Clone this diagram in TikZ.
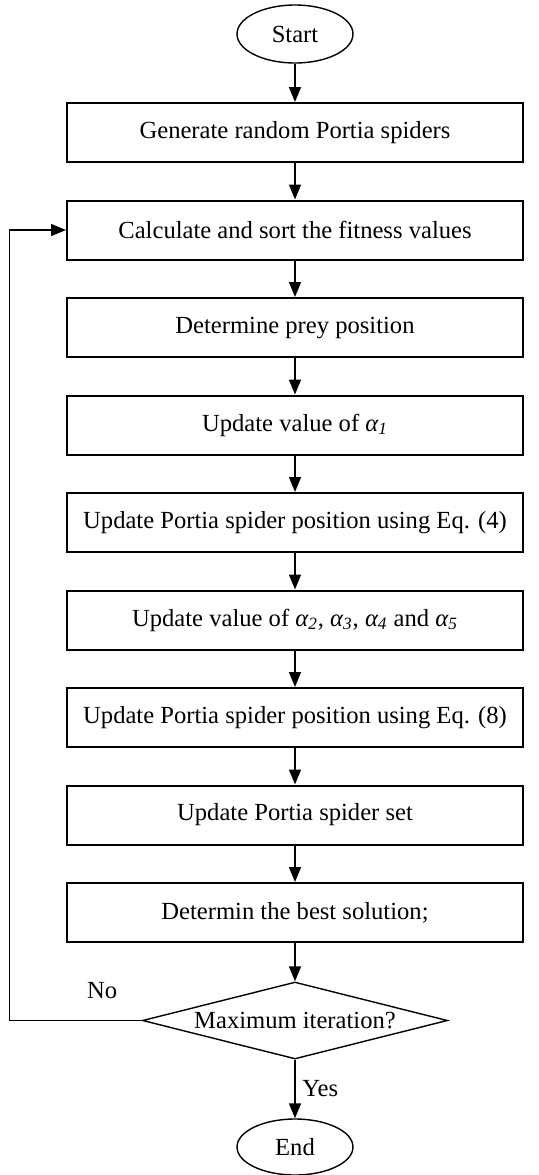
\documentclass[tikz,border=0pt]{standalone}
\usepackage{fontspec}
\setmainfont{Liberation Serif}
\usetikzlibrary{shapes.geometric,arrows.meta,positioning}
\tikzset{
  stepbox/.style={
    draw,
    line width=1pt,
    minimum width=228pt,
    minimum height=29.5pt,
    inner sep=0pt
  },
  terminal/.style={
    ellipse,
    draw,
    line width=0.7pt,
    minimum width=58pt,
    minimum height=29pt,
    inner sep=0pt
  },
  decision/.style={
    diamond,
    draw,
    line width=0.7pt,
    aspect=4,
    minimum width=152.5pt,
    minimum height=38.5pt,
    inner sep=0pt
  },
  flow/.style={
    line width=0.75pt,
    -{Triangle[width=6pt,length=7.5pt]}
  },
  every picture/.style={
    font=\fontsize{12.3}{14}\selectfont
  }
}
\newcommand{\alphsub}[1]{\textit{α\textsubscript{#1}}}
\begin{document}
\begin{tikzpicture}[x=0.5pt,y=-0.5pt,node distance=18.25pt]
  \useasboundingbox (0,0) rectangle (539,1175);
  \node[terminal] (start) at (295,34) {Start};
  \node[stepbox, below=19.15pt of start] (init) {Generate random Portia spiders};
  \node[stepbox, below=of init] (fit) {Calculate and sort the fitness values};
  \node[stepbox, below=of fit] (prey) {Determine prey position};
  \node[stepbox, below=of prey] (alpha1) {Update value of \alphsub{1}};
  \node[stepbox, below=of alpha1] (pos4) {Update Portia spider position using Eq. (4)};
  \node[stepbox, below=of pos4] (alphas) {Update value of \alphsub{2}, \alphsub{3}, \alphsub{4} and \alphsub{5}};
  \node[stepbox, below=of alphas] (pos8) {Update Portia spider position using Eq. (8)};
  \node[stepbox, below=of pos8] (set) {Update Portia spider set};
  \node[stepbox, below=of set] (best) {Determin the best solution;};
  \node[decision, below=19.15pt of best] (dec) {Maximum iteration?};
  \node[terminal, minimum height=28pt, below=29.3pt of dec] (end) {End};
  \coordinate (back) at (9.5,1020);
  % main flow
  \draw[flow] (start) -- (init);
  \draw[flow] (init) -- (fit);
  \draw[flow] (fit) -- (prey);
  \draw[flow] (prey) -- (alpha1);
  \draw[flow] (alpha1) -- (pos4);
  \draw[flow] (pos4) -- (alphas);
  \draw[flow] (alphas) -- (pos8);
  \draw[flow] (pos8) -- (set);
  \draw[flow] (set) -- (best);
  \draw[flow] (best) -- (dec);
  \draw[flow] (dec) -- node[right] {Yes} (end);
  % loop back
  \draw[flow] (dec.west) -- node[pos=0.3, above=7pt] {No} (dec.west -| back) |- (fit.west);
\end{tikzpicture}
\end{document}
